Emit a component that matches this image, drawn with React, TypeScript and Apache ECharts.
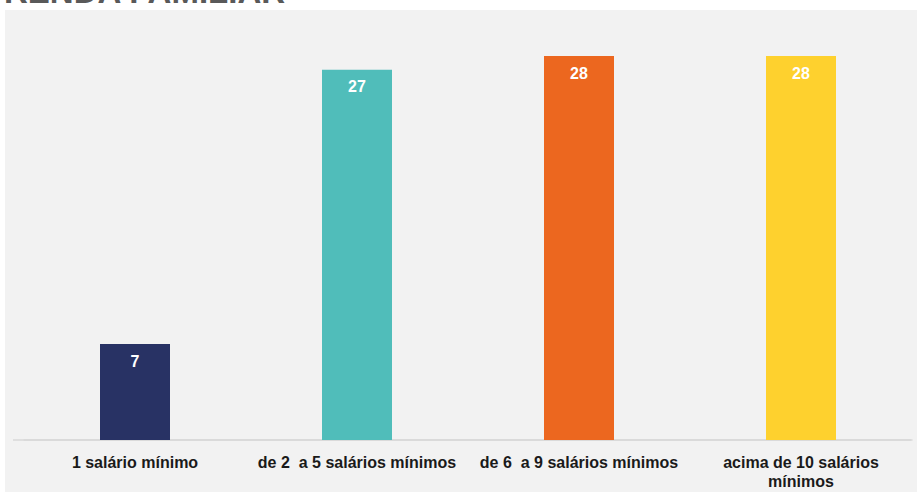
import React, { useEffect, useRef } from "react";
import * as echarts from "echarts";

const categories = [
  "1 salário mínimo",
  "de 2  a 5 salários mínimos",
  "de 6  a 9 salários mínimos",
  "acima de 10 salários\nmínimos",
];
const values = [7, 27, 28, 28];
const barColors = ["#283264", "#50bdba", "#ec671f", "#fed12e"];
const titleText = "RENDA FAMILIAR";

export default function App() {
  const ref = useRef<HTMLDivElement>(null);
  useEffect(() => {
    document.body.style.margin = "0";
    const chart = echarts.init(ref.current!, null, { renderer: "svg" });
    chart.setOption({
      animation: false,
      backgroundColor: "#ffffff",
      graphic: [
        {
          type: "rect",
          left: 5,
          top: 10,
          shape: { width: 912, height: 482 },
          style: { fill: "#f2f2f2" },
          z: -10,
        },
        {
          type: "line",
          shape: { x1: 13, y1: 440, x2: 911, y2: 440 },
          style: { stroke: "#d9d9d9", lineWidth: 1.5 },
          z: -5,
        },
        {
          type: "text",
          left: 4,
          top: -25,
          style: {
            text: titleText,
            fill: "#595959",
            font: "bold 33px 'Liberation Sans', Arial, sans-serif",
          },
        },
      ],
      grid: { left: 24, right: 6, top: 28.6, bottom: 52, containLabel: false },
      xAxis: {
        type: "category",
        data: categories,
        axisLine: { lineStyle: { color: "#d9d9d9", width: 1.5 } },
        axisTick: { show: false },
        axisLabel: {
          interval: 0,
          margin: 13,
          color: "#1a1a1a",
          fontWeight: "bold",
          fontSize: 16,
          fontFamily: "'Liberation Sans', Arial, sans-serif",
          lineHeight: 19,
        },
      },
      yAxis: {
        type: "value",
        min: 0,
        max: 30,
        show: false,
        splitLine: { show: false },
      },
      series: [
        {
          type: "bar",
          barWidth: 70,
          data: values.map((v, i) => ({ value: v, itemStyle: { color: barColors[i] } })),
          label: {
            show: true,
            position: "insideTop",
            distance: 9,
            color: "#ffffff",
            fontWeight: "bold",
            fontSize: 16,
            fontFamily: "'Liberation Sans', Arial, sans-serif",
          },
        },
      ],
    });
    return () => chart.dispose();
  }, []);
  return (
    <div
      ref={ref}
      style={{ position: "fixed", left: 0, top: 0, width: 918, height: 492 }}
    />
  );
}
